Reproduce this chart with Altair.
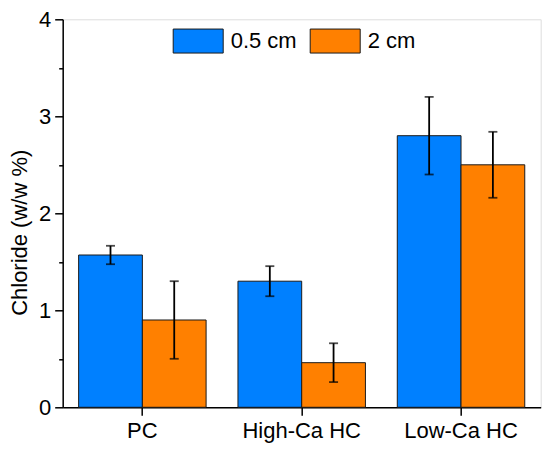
import altair as alt
import pandas as pd

categories = ["PC", "High-Ca HC", "Low-Ca HC"]
depths = ["0.5 cm", "2 cm"]
chloride_05 = [1.57, 1.30, 2.80]
chloride_2 = [0.90, 0.46, 2.50]
err_05 = [0.095, 0.155, 0.40]
err_2 = [0.40, 0.20, 0.34]
colors = ["#0080FF", "#FF8000"]
y_ticks = [0, 0.5, 1, 1.5, 2, 2.5, 3, 3.5, 4]

rows = []
for i, c in enumerate(categories):
    rows.append(dict(cat=c, depth=depths[0], val=chloride_05[i], err=err_05[i]))
    rows.append(dict(cat=c, depth=depths[1], val=chloride_2[i], err=err_2[i]))
df = pd.DataFrame(rows)
df["lo"] = df["val"] - df["err"]
df["hi"] = df["val"] + df["err"]

FONT = "Liberation Sans"

x = alt.X(
    "cat:N", sort=categories,
    scale=alt.Scale(paddingInner=0.2, paddingOuter=0.1),
    axis=alt.Axis(title=None, labelAngle=0, labelFontSize=22, labelFont=FONT,
                  labelColor="black", tickSize=8, tickWidth=1.5, tickColor="black",
                  domainColor="black", domainWidth=1.5, labelPadding=5),
)
xo = alt.XOffset("depth:N", sort=depths, scale=alt.Scale(paddingInner=0, paddingOuter=0))

yscale = alt.Scale(domain=[0, 4], nice=False)
y = alt.Y(
    "val:Q", scale=yscale,
    axis=alt.Axis(
        title="Chloride (w/w %)", values=y_ticks,
        labelExpr="datum.value % 1 ? '' : format(datum.value, 'd')",
        tickSize={"condition": {"test": "datum.value % 1 !== 0", "value": 4}, "value": 8},
        tickWidth=1.5, tickColor="black", domainColor="black", domainWidth=1.5,
        labelFontSize=22, labelFont=FONT, labelColor="black", labelPadding=4,
        titleFontSize=22, titleFont=FONT, titleColor="black", titleFontWeight="normal",
        titleBaseline="alphabetic", titleX=-36, titleY=213, titleAngle=270,
        grid=False,
    ),
)

bars = alt.Chart(df).mark_bar(stroke="#1a1a1a", strokeWidth=1).encode(
    x=x, xOffset=xo, y=y,
    fill=alt.Fill(
        "depth:N", sort=depths,
        scale=alt.Scale(domain=depths, range=colors),
        legend=alt.Legend(
            title=None, orient="none", legendX=110, legendY=-4, direction="horizontal",
            symbolType="M-1,-0.48L1,-0.48L1,0.48L-1,0.48Z", symbolSize=2500,
            symbolStrokeColor="#1a1a1a", symbolStrokeWidth=1, symbolOpacity=1,
            labelFontSize=22, labelFont=FONT, labelColor="black", labelOffset=7,
            columnPadding=10, padding=0, symbolOffset=0,
        ),
    ),
)

rules = alt.Chart(df).mark_rule(color="black", strokeWidth=1.8).encode(
    x=x, xOffset=xo, y=alt.Y("lo:Q", scale=yscale), y2="hi:Q"
)
cap_hi = alt.Chart(df).mark_tick(color="black", thickness=1.8, size=9, orient="horizontal").encode(
    x=x, xOffset=xo, y=alt.Y("hi:Q", scale=yscale)
)
cap_lo = alt.Chart(df).mark_tick(color="black", thickness=1.8, size=9, orient="horizontal").encode(
    x=x, xOffset=xo, y=alt.Y("lo:Q", scale=yscale)
)

chart = alt.layer(bars, rules, cap_hi, cap_lo).properties(
    width=478, height=388,
    padding={"left": 54.7, "top": 11.3, "right": 1, "bottom": 42},
    autosize=alt.AutoSizeParams(type="none"),
).configure_view(stroke="#333333", strokeWidth=1.5).configure(background="white")

chart.save("out.html", embed_options={"renderer": "svg", "actions": False})
